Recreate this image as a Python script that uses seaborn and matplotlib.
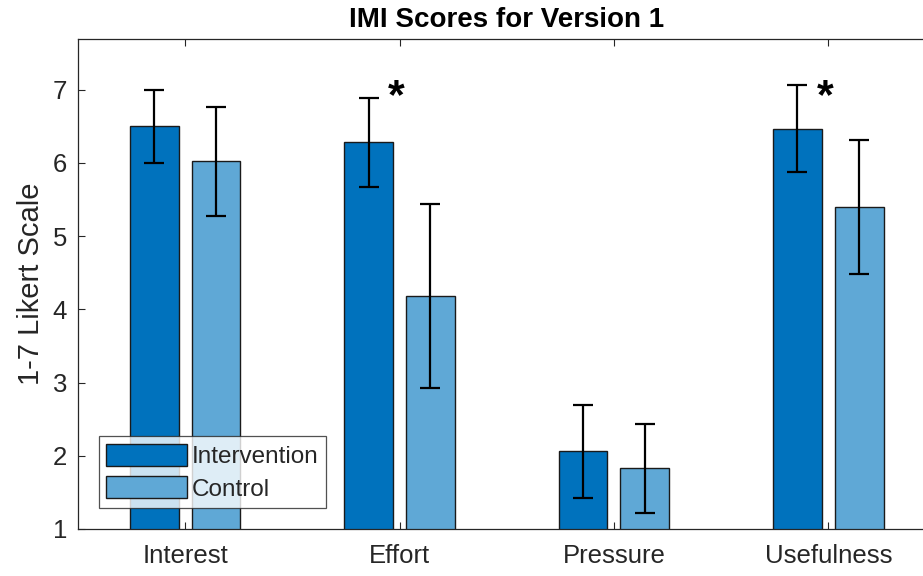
import matplotlib
matplotlib.use("Agg")
import matplotlib.pyplot as plt
import seaborn as sns
import pandas as pd
import numpy as np

categories = ["Interest", "Effort", "Pressure", "Usefulness"]
groups = ["Intervention", "Control"]
intervention_mean = [6.50, 6.28, 2.06, 6.47]
intervention_err = [0.50, 0.61, 0.64, 0.60]
control_mean = [6.02, 4.18, 1.83, 5.40]
control_err = [0.74, 1.26, 0.61, 0.91]
significant = ["Effort", "Usefulness"]

df = pd.DataFrame({
    "category": categories * 2,
    "group": [groups[0]] * 4 + [groups[1]] * 4,
    "score": intervention_mean + control_mean,
    "err": intervention_err + control_err,
})

sns.set_theme(style="white")
plt.rcParams["font.family"] = ["Liberation Sans", "DejaVu Sans"]

fig = plt.figure(figsize=(9.23, 5.76), dpi=100)
ax = fig.add_axes([78 / 923, 47 / 576, 857.5 / 923, 490.5 / 576])

palette = {"Intervention": "#0072BD", "Control": "#5FA8D6"}
sns.barplot(data=df, x="category", y="score", hue="group", order=categories,
            hue_order=groups, palette=palette, width=0.576, gap=0.21,
            errorbar=None, edgecolor="#1a1a1a", linewidth=1.0, saturation=1,
            ax=ax)

# error bars at each bar's centre
for bars, grp in zip(ax.containers, groups):
    sub = df[df["group"] == grp].set_index("category").loc[categories]
    xs = [b.get_x() + b.get_width() / 2 for b in bars]
    ax.errorbar(xs, sub["score"].values, yerr=sub["err"].values, fmt="none",
                ecolor="black", elinewidth=1.6, capsize=7.5, capthick=1.6,
                zorder=5)

for cat in significant:
    i = categories.index(cat)
    ax.text(i - 0.015, 6.90, "*", ha="center", va="center", fontsize=31,
            fontweight="bold", color="black")

ax.set_xlim(-0.5, 3.5)
ax.set_ylim(1, 7.7)
ax.set_yticks(range(1, 8))
ax.set_xlabel("")
ax.set_ylabel("1-7 Likert Scale", fontsize=21, color="#262626")
ax.yaxis.set_label_coords(-0.039, 0.5)
ax.set_title("IMI Scores for Version 1", fontsize=20, fontweight="bold",
             color="black", pad=8)
ax.tick_params(axis="both", direction="in", labelsize=18.5, colors="#262626",
               length=5, width=0.8, top=True, right=True, bottom=True, left=True)
ax.tick_params(axis="x", pad=11)
ax.tick_params(axis="y", pad=8)
for s in ax.spines.values():
    s.set_color("#262626")
    s.set_linewidth(0.9)

leg = ax.legend(loc="lower left", bbox_to_anchor=(0.0245, 0.043),
                borderaxespad=0, fontsize=17.5, handlelength=3.33,
                handleheight=1.03, handletextpad=0.2, labelspacing=0.33,
                borderpad=0.3, fancybox=False, frameon=True, title=None)
leg.get_frame().set_edgecolor("#262626")
leg.get_frame().set_linewidth(0.9)
for h in leg.legend_handles:
    h.set_edgecolor("#1a1a1a")

fig.savefig("out.png", dpi=100)
